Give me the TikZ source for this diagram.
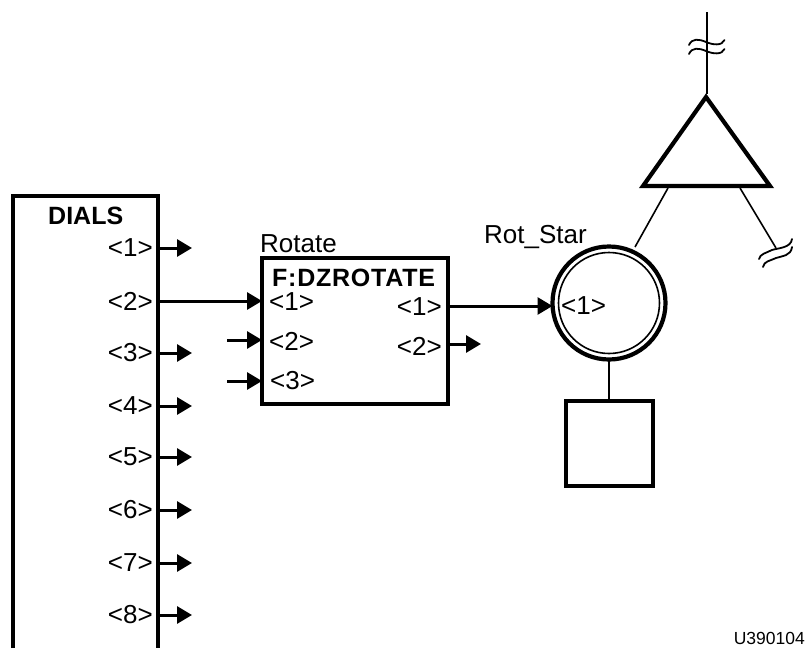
\documentclass[tikz,border=0pt]{standalone}
\usepackage{fontspec}
\setmainfont{Liberation Sans}
\usetikzlibrary{arrows.meta,calc}
\tikzset{
  x=1pt,y=-1pt,
  heavy/.style={draw=black,line width=3.6pt,fill=white,line join=miter,outer sep=0pt},
  link/.style={draw=black,line width=1.6pt},
  wire/.style={draw=black,line width=3pt},
  sig/.style={wire,-{Triangle[length=15pt,width=17pt]}},
  port/.style={inner sep=0pt,font=\fontsize{26}{28}\selectfont},
  lab/.style={inner sep=0pt,font=\fontsize{26}{28}\selectfont,anchor=base west},
  blab/.style={inner sep=0pt,font=\fontsize{25}{28}\selectfont\bfseries,anchor=base west},
  wave/.style={draw=black,line width=1.8pt,line cap=round},
}
\begin{document}
\begin{tikzpicture}
\useasboundingbox (0,0) rectangle (808,648);
% DIALS box, open at the lower edge
\coordinate (dialsBL) at (13,648);
\coordinate (dialsTL) at (13,196);
\coordinate (dialsTR) at (158,196);
\coordinate (dialsBR) at (158,648);
\draw[heavy] (dialsBL) -- (dialsTL) -- (dialsTR) -- (dialsBR);
\node[blab] (dialsT) at (48,224) {DIALS};
\foreach \i/\y in {1/248,2/301,3/353,4/406,5/457,6/510,7/563,8/615}{
  \node[port,anchor=east] (dp\i) at (153,\y) {<\i>};
  \coordinate (do\i) at (158,\y);
  \coordinate (de\i) at (192,\y);
}
\foreach \i in {1,3,4,5,6,7,8}{ \draw[sig] (do\i) -- (de\i); }
% function box
\node[heavy,minimum width=186pt,minimum height=146pt,inner sep=0pt,anchor=north west] (fn) at (262,258) {};
\node[lab] (rotl) at (260,252) {Rotate};
\node[blab] (fnt) at (272,286) {\addfontfeature{LetterSpace=3}F:DZROTATE};
\node[port,anchor=west] (fi1) at (269,302) {<1>};
\node[port,anchor=west] (fi2) at (269,341) {<2>};
\node[port,anchor=west] (fi3) at (270,381) {<3>};
\node[port,anchor=east] (fo1) at (442,307) {<1>};
\node[port,anchor=east] (fo2) at (442,346) {<2>};
\coordinate (a2) at (227,340);
\coordinate (a3) at (227,381);
\coordinate (b2) at (481,344);
\draw[sig] (do2) -- (fn.west|-do2);
\draw[sig] (a2) -- (fn.west|-a2);
\draw[sig] (a3) -- (fn.west|-a3);
\draw[sig] (fn.east|-b2) -- (b2);
% circle
\node[heavy,line width=4.2pt,circle,minimum size=113pt,inner sep=0pt] (st) at (609,303) {};
\draw[link] (st.center) circle[radius=50.5];
\node[lab] (stl) at (484,243) {Rot\_Star};
\node[port,anchor=west] (st1) at (561,306) {<1>};
\coordinate (c1) at (448,306);
\draw[sig] (c1) -- (st.west|-c1);
% square
\node[heavy,minimum width=87pt,minimum height=85pt,inner sep=0pt,anchor=north west] (sq) at (566,401) {};
\draw[link] (st.south) -- (sq.north-|st.south);
% triangle
\coordinate (tA) at (706,97);
\coordinate (tL) at (643,186);
\coordinate (tR) at (770,186);
\draw[heavy,line width=4.2pt] (tA) -- (tL) -- (tR) -- cycle;
\coordinate (topEnd) at (707,12);
\draw[link] (topEnd) -- (707,94);
\coordinate (lT) at (668,188);
\coordinate (lB) at (635,247);
\draw[link] (lT) -- (lB);
\coordinate (rT) at (740,188);
\coordinate (rB) at (776,248);
\draw[link] (rT) -- (rB);
% break marks
\draw[wave] (689,45) .. controls (692,38) and (699,39) .. (706,42) .. controls (713,45) and (722,46) .. (724.5,40);
\draw[wave] (689,54) .. controls (692,47) and (699,48) .. (706,51) .. controls (713,54) and (722,55) .. (724.5,49);
\draw[wave] (759,259) .. controls (760,254) and (766,253) .. (772,250) .. controls (778,248) and (791,248) .. (792,239);
\draw[wave] (763,267) .. controls (764,261) and (770,261) .. (776,258) .. controls (782,256) and (791,256) .. (792,247);
\node[inner sep=0pt,anchor=base east,font=\fontsize{17.5}{19}\selectfont] (uid) at (805,644) {U390104};
\end{tikzpicture}
\end{document}
